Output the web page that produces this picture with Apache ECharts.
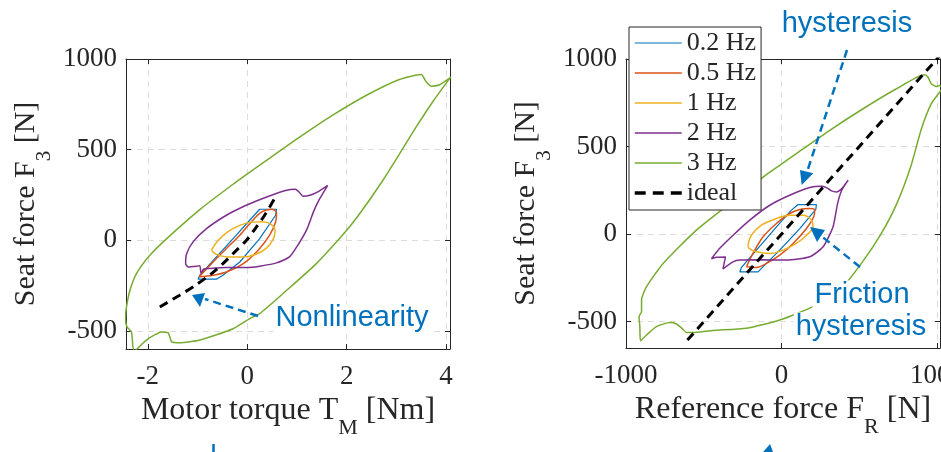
<!DOCTYPE html>
<html>
<head>
<meta charset="utf-8">
<title>Seat force hysteresis</title>
<script src="https://cdn.jsdelivr.net/npm/echarts@6/dist/echarts.min.js"></script>
<style>
    html, body { margin: 0; padding: 0; background: #fff; }
    #chart { width: 941px; height: 452px; }
</style>
</head>
<body>
<div id="chart"></div>
<script>
    // ---- values ----
    const seriesNames = ['0.2 Hz', '0.5 Hz', '1 Hz', '2 Hz', '3 Hz', 'ideal'];

    // left panel: motor torque T_M [Nm] -> seat force F3 [N]
    const tq02X = [0.25, 0.59, 0.57, 0.25, -0.15, -0.49, -0.62, -0.99, -0.955, -0.62, -0.22, 0.08, 0.25];
    const tq02Y = [171, 171, 138, 9, -120, -193, -215, -215, -193, -92, 28, 120, 171];
    const tq05X = [-0.97, -0.72, -0.42, -0.15, 0.08, 0.29, 0.49, 0.59, 0.57, 0.45, 0.22, -0.08, -0.42, -0.69, -0.97];
    const tq05Y = [-202, -129, -46, 28, 101, 156, 171, 153, 101, 28, -55, -129, -175, -193, -202];
    const tq1X = [-0.72, -0.6, -0.4, -0.15, 0.1, 0.3, 0.48, 0.56, 0.52, 0.38, 0.15, -0.1, -0.4, -0.62, -0.72];
    const tq1Y = [-55, -5, 45, 82, 100, 102, 88, 50, 5, -45, -80, -93, -92, -78, -55];
    const tq2X = [1.62, 1.42, 1.26, 1.12, 1.06, 0.97, 0.79, 0.39, -0.02, -0.42, -0.82, -1.09, -1.22, -1.24, -1.19, -1.02,
        -0.955, -0.93, -0.88, -0.75, -0.42, -0.02, 0.25, 0.59, 0.85, 1.0, 1.2, 1.33, 1.45, 1.62];
    const tq2Y = [303, 267, 248, 243, 261, 281, 276, 239, 193, 138, 64, -9, -74, -129, -147, -143,
        -140, -182, -160, -156, -151, -151, -143, -125, -92, -35, 60, 155, 225, 303];
    const tq3X = [4.1, 3.87, 3.7, 3.6, 3.5, 3.06, 2.4, 1.72, 1.06, 0.39, -0.285, -0.955, -1.62, -1.96, -2.23, -2.36,
        -2.43, -2.45, -2.42, -2.33, -2.30, -2.27, -2.2, -2.1, -1.96, -1.72, -1.59, -1.52, -1.36, -0.955, -0.285,
        0.05, 0.25, 0.72, 1.39, 2.06, 2.73, 3.40, 3.73, 4.07, 4.1];
    const tq3Y = [900, 858, 850, 874, 914, 887, 800, 690, 570, 441, 309, 169, 9, -83, -184, -276,
        -368, -430, -478, -506, -589, -612, -595, -568, -537, -506, -511, -561, -566, -550, -488,
        -432, -405, -294, -129, 74, 331, 625, 763, 892, 900];
    const tqIdealX = [-1.76, -1.36, -1.04, -0.72, -0.49, -0.25, -0.015, 0.185, 0.35, 0.55];
    const tqIdealY = [-368, -303, -248, -184, -129, -64, 0, 74, 138, 230];

    // right panel: reference force F_R [N] -> seat force F3 [N]
    const rf02X = [107, 225, 221, 118, -11, -129, -150, -268, -257, -161, -32, 64, 107];
    const rf02Y = [169, 169, 141, 32, -91, -195, -215, -215, -190, -91, 42, 137, 169];
    const rf05X = [-225, -183, -118, -32, 53, 118, 182, 214, 208, 161, 75, -11, -96, -161, -225];
    const rf05Y = [-186, -110, -15, 61, 118, 141, 146, 137, 99, 32, -53, -120, -167, -190, -186];
    const rf1X = [-215, -193, -129, -32, 53, 139, 193, 203, 161, 96, 10, -75, -161, -208, -215];
    const rf1Y = [-63, -6, 51, 89, 108, 108, 80, 42, -6, -53, -91, -110, -101, -81, -63];
    const rf2X = [429, 390, 354, 322, 289, 257, 182, 53, -75, -204, -311, -397, -450, -420, -360, -376, -311, -268,
        -140, 32, 182, 268, 332, 360, 385, 429];
    const rf2Y = [308, 262, 241, 247, 266, 273, 266, 222, 165, 80, -6, -81, -140, -132, -130, -198, -158, -148,
        -146, -148, -129, -72, 42, 170, 245, 308];
    const rf3X = [1035, 1018, 997, 964, 943, 921, 740, 525, 311, 96, -11, -118, -332, -547, -761, -868, -900, -900,
        -916, -911, -907, -868, -804, -718, -675, -633, -611, -568, -440, -225, -11, 203, 376, 520, 640, 740, 830,
        900, 964, 1018, 1035];
    const rf3Y = [835, 849, 843, 859, 896, 910, 830, 716, 593, 460, 393, 326, 175, 23, -167, -300, -376, -443,
        -471, -528, -608, -576, -528, -505, -513, -543, -562, -562, -550, -537, -490, -414, -320, -160, 0, 170, 380,
        600, 745, 811, 835];
    const rfIdealX = [-605, 1020];
    const rfIdealY = [-605, 1020];

    // ---- styling ----
    const ink = '#262626';
    const blue = '#0072BD';
    const serif = "'Liberation Serif', 'Times New Roman', serif";
    const sans = "'Liberation Sans', Arial, sans-serif";
    const colors = {
        '0.2 Hz': '#0072BD', '0.5 Hz': '#D95319', '1 Hz': '#EDB120',
        '2 Hz': '#7E2F8E', '3 Hz': '#77AC30', 'ideal': '#000000'
    };
    const idealDash = [9, 6];
    // three thick dashes for the legend entry of the ideal line
    const dashIcon = 'path://M0,0h10v3h-10zM16.5,0h10v3h-10zM33,0h10v3h-10z';

    const pair = (xs, ys) => xs.map((x, i) => [x, ys[i]]);

    // only multiples of step get a label (min/max end ticks stay blank)
    function tickFmt(step) {
        return v => Math.abs(v / step - Math.round(v / step)) < 1e-6 ? String(v) : '';
    }

    // both tokens get the same box height, so the subscript offset comes from padding only
    function nameStyle(size, sub, drop) {
        const h = size + 18;
        return {
            rich: {
                a: {fontFamily: serif, fontSize: size, color: ink, lineHeight: size, padding: [0, 0, h - size, 0]},
                s: {fontFamily: serif, fontSize: sub, color: ink, lineHeight: sub,
                    padding: [size / 2 + drop - sub / 2, 0, h - (size / 2 + drop + sub / 2), 0]}
            }
        };
    }

    function valueAxis(grid, pos, min, max, extra, labelled) {
        const ax = Object.assign({
            type: 'value', gridIndex: grid, position: pos, min: min, max: max,
            axisLine: {show: true, onZero: false, lineStyle: {color: ink, width: 1}},
            axisTick: {show: true, inside: true, length: 5, lineStyle: {color: ink}},
            splitLine: {show: false},
            axisLabel: {show: false}
        }, extra);
        if (labelled) {
            ax.splitLine = {show: true, lineStyle: {color: '#dcdcdc', type: [6, 5], width: 1}};
        }
        return ax;
    }

    function loop(name, data, side, width, smooth) {
        return {
            name: name, type: 'line', data: data,
            xAxisIndex: side, yAxisIndex: side,
            symbol: 'none', smooth: smooth, clip: true, silent: true,
            lineStyle: {color: colors[name], width: width, type: name === 'ideal' ? idealDash : 'solid'},
            itemStyle: {color: colors[name]}
        };
    }

    const chart = echarts.init(document.getElementById('chart'));

    const tickText = {show: true, fontFamily: serif, fontSize: 27, color: ink};

    const option = {
        animation: false,
        backgroundColor: '#fff',
        grid: [
            {left: 126, top: 59, width: 324, height: 290, outerBoundsMode: 'none', containLabel: false},
            {left: 626, top: 59, width: 314, height: 289, outerBoundsMode: 'none', containLabel: false}
        ],
        xAxis: [
            valueAxis(0, 'bottom', -2.44, 4.08, {
                splitNumber: 3,
                name: '{a|Motor torque T}{s|M}{a| [Nm]}', nameLocation: 'middle', nameGap: 46,
                nameTextStyle: nameStyle(32, 22, 17),
                axisLabel: Object.assign({margin: 14, formatter: tickFmt(2)}, tickText)
            }, true),
            valueAxis(0, 'top', -2.44, 4.08, {splitNumber: 3}, false),
            valueAxis(1, 'bottom', -1000, 1020, {
                interval: 1000,
                name: '{a|Reference force F}{s|R}{a| [N]}', nameLocation: 'middle', nameGap: 46,
                nameTextStyle: nameStyle(32, 22, 17),
                axisLabel: Object.assign({margin: 14, formatter: tickFmt(1000)}, tickText)
            }, true),
            valueAxis(1, 'top', -1000, 1020, {interval: 1000}, false)
        ],
        yAxis: [
            valueAxis(0, 'left', -600, 1000, {
                splitNumber: 3,
                name: '{a|Seat force F}{s|3}{a| [N]}', nameLocation: 'middle', nameGap: 70, nameRotate: 90,
                nameTextStyle: nameStyle(30, 21, 18),
                axisLabel: Object.assign({margin: 9, formatter: tickFmt(500)}, tickText)
            }, true),
            valueAxis(0, 'right', -600, 1000, {splitNumber: 3}, false),
            valueAxis(1, 'left', -650, 1000, {
                splitNumber: 3,
                name: '{a|Seat force F}{s|3}{a| [N]}', nameLocation: 'middle', nameGap: 70, nameRotate: 90,
                nameTextStyle: nameStyle(30, 21, 18),
                axisLabel: Object.assign({margin: 9, formatter: tickFmt(500)}, tickText)
            }, true),
            valueAxis(1, 'right', -650, 1000, {splitNumber: 3}, false)
        ],
        legend: {
            data: seriesNames.map(n => n === 'ideal'
                ? {name: n, icon: dashIcon, itemStyle: {opacity: 1, color: '#000'}}
                : n),
            orient: 'vertical',
            left: 629, top: 27,
            itemWidth: 47, itemHeight: 14, itemGap: 4,
            padding: [3, 5, 4, 5],
            backgroundColor: '#fff',
            borderColor: ink, borderWidth: 1, borderRadius: 0,
            itemStyle: {opacity: 0},
            lineStyle: {width: 'inherit', type: 'inherit', color: 'inherit'},
            textStyle: {fontFamily: serif, fontSize: 26, color: ink, lineHeight: 26},
            selectedMode: false,
            z: 10
        },
        series: [
            loop('0.2 Hz', pair(tq02X, tq02Y), 0, 1.2, false),
            loop('0.5 Hz', pair(tq05X, tq05Y), 0, 1.5, 0.3),
            loop('1 Hz', pair(tq1X, tq1Y), 0, 1.5, 0.4),
            loop('2 Hz', pair(tq2X, tq2Y), 0, 1.5, 0.2),
            loop('3 Hz', pair(tq3X, tq3Y), 0, 1.5, 0.2),
            loop('ideal', pair(tqIdealX, tqIdealY), 0, 3, 0.3),
            loop('0.2 Hz', pair(rf02X, rf02Y), 2, 1.2, false),
            loop('0.5 Hz', pair(rf05X, rf05Y), 2, 1.5, 0.3),
            loop('1 Hz', pair(rf1X, rf1Y), 2, 1.5, 0.4),
            loop('2 Hz', pair(rf2X, rf2Y), 2, 1.5, 0.2),
            loop('3 Hz', pair(rf3X, rf3Y), 2, 1.5, 0.2),
            loop('ideal', pair(rfIdealX, rfIdealY), 2, 3, false)
        ],
        // annotations: blue text + dashed arrows
        graphic: [
            {type: 'line', z: 50, shape: {x1: 258, y1: 316, x2: 205, y2: 299},
                style: {stroke: blue, lineWidth: 2.5, lineDash: [8, 5]}},
            {type: 'polygon', z: 50, shape: {points: [[192, 295], [205, 293], [200, 307]]}, style: {fill: blue}},
            {type: 'text', z: 50, style: {text: 'Nonlinearity', x: 352, y: 318, align: 'center', verticalAlign: 'middle',
                font: '29px ' + sans, fill: blue, backgroundColor: '#fff', padding: [0, 2]}},

            {type: 'text', z: 50, style: {text: 'hysteresis', x: 847, y: 24, align: 'center', verticalAlign: 'middle',
                font: '29px ' + sans, fill: blue}},
            {type: 'line', z: 50, shape: {x1: 847, y1: 50, x2: 807, y2: 172},
                style: {stroke: blue, lineWidth: 2.5, lineDash: [8, 5]}},
            {type: 'polygon', z: 50, shape: {points: [[801.7, 185], [800, 170], [813.3, 173.3]]}, style: {fill: blue}},

            {type: 'line', z: 50, shape: {x1: 860, y1: 267, x2: 820, y2: 235},
                style: {stroke: blue, lineWidth: 2.5, lineDash: [8, 5]}},
            {type: 'polygon', z: 50, shape: {points: [[810, 227], [825, 230], [817, 242]]}, style: {fill: blue}},
            {type: 'text', z: 50, style: {text: 'Friction', x: 862, y: 295, align: 'center', verticalAlign: 'middle',
                font: '29px ' + sans, fill: blue, backgroundColor: '#fff', padding: [0, 2]}},
            {type: 'text', z: 50, style: {text: 'hysteresis', x: 861, y: 327, align: 'center', verticalAlign: 'middle',
                font: '29px ' + sans, fill: blue, backgroundColor: '#fff', padding: [0, 2]}},

            // pieces of arrows that continue below the picture
            {type: 'line', z: 50, shape: {x1: 213.5, y1: 444, x2: 213.5, y2: 452}, style: {stroke: blue, lineWidth: 2.5}},
            {type: 'polygon', z: 50, shape: {points: [[770, 444], [758, 458], [776, 460]]}, style: {fill: blue}}
        ]
    };

    chart.setOption(option);
    window.onresize = function () {
        chart.resize();
    };
</script>
</body>
</html>
